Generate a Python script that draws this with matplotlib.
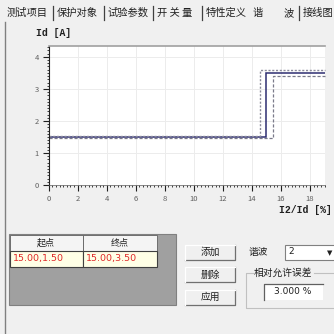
import matplotlib
matplotlib.use("Agg")
import matplotlib.pyplot as plt
from matplotlib.patches import Rectangle
from matplotlib.ticker import MultipleLocator

plt.rcParams['font.family'] = ['Noto Sans CJK SC', 'DejaVu Sans']

# ---- data ----
tabs = ["测试项目", "保护对象", "试验参数", "开 关 量", "特性定义", "谐", "波", "接线图"]
char_x = [0, 15.0, 15.0, 19]
char_y = [1.5, 1.5, 3.5, 3.5]
upper_x = [0, 14.55, 14.55, 19]
upper_y = [1.54, 1.54, 3.605, 3.605]
lower_x = [0, 15.45, 15.45, 19]
lower_y = [1.46, 1.46, 3.395, 3.395]
x_ticks = [0, 2, 4, 6, 8, 10, 12, 14, 16, 18]
y_ticks = [0, 1, 2, 3, 4]
table_header = ["起点", "终点"]
table_row = ["15.00,1.50", "15.00,3.50"]
buttons = ["添加", "删除", "应用"]
harmonic = "2"
tolerance_text = "3.000 %"

W = H = 334
fig = plt.figure(figsize=(W / 100, H / 100), dpi=100)
fig.patch.set_facecolor("#f0f0f0")

# UI overlay axes in pixel coords
ui = fig.add_axes([0, 0, 1, 1])
ui.set_xlim(0, W)
ui.set_ylim(H, 0)
ui.axis("off")
ui.set_zorder(0)

def P(x0, y0, w, h, fc, ec="none", lw=0.8, z=1):
    ui.add_patch(Rectangle((x0, y0), w, h, facecolor=fc, edgecolor=ec, lw=lw, zorder=z))

# tabs
tab_pos = [7, 57, 108, 157, 206, 253, 284, 303]
sep_pos = [53, 104, 153, 202, 299]
for t, x in zip(tabs, tab_pos):
    ui.text(x, 13, t, fontsize=7.4, color="#202020", va="center", ha="left")
for x in sep_pos:
    ui.plot([x, x], [6, 20], color="#404040", lw=0.9)
ui.plot([4.5, 4.5], [22, H], color="#808080", lw=1.0)

# axis labels
ui.text(36, 33, "Id [A]", fontsize=7, fontweight="bold", family="Liberation Mono",
        color="#202020", va="center", ha="left")
ui.text(332, 210, "I2/Id [%]", fontsize=7, fontweight="bold", family="Liberation Mono",
        color="#202020", va="center", ha="right")

# table
P(9, 234, 167, 71, "#a0a0a0", ec="#808080")
P(10, 235, 73, 16, "#f4f4f4", ec="#606060", lw=0.6)
P(83, 235, 74, 16, "#f4f4f4", ec="#606060", lw=0.6)
P(10, 251, 73, 16, "#ffffe6", ec="#404040", lw=0.8)
P(83, 251, 74, 16, "#ffffe6", ec="#404040", lw=0.8)
ui.text(46, 243, table_header[0], fontsize=6.5, ha="center", va="center", color="#202020")
ui.text(120, 243, table_header[1], fontsize=6.5, ha="center", va="center", color="#202020")
ui.text(13, 259, table_row[0], fontsize=6.8, ha="left", va="center", color="#e02828",
        family="DejaVu Sans")
ui.text(86, 259, table_row[1], fontsize=6.8, ha="left", va="center", color="#e02828",
        family="DejaVu Sans")

# buttons
for i, b in enumerate(buttons):
    yc = 252 + i * 22.5
    P(185, yc - 7.5, 50, 15, "#f0f0f0", z=1)
    ui.plot([185, 235, 235], [yc + 7.5, yc + 7.5, yc - 7.5], color="#707070", lw=0.9)
    ui.plot([185, 185, 235], [yc + 7.5, yc - 7.5, yc - 7.5], color="#ffffff", lw=0.9)
    ui.text(210, yc, b, fontsize=7, ha="center", va="center", color="#202020")

# harmonic combobox
ui.text(249, 252, "谐波", fontsize=7, ha="left", va="center", color="#202020")
P(285, 245, 52, 15, "#ffffff", ec="#808080", lw=0.8)
ui.text(288, 252, harmonic, fontsize=6.5, ha="left", va="center", color="#202020",
        family="DejaVu Sans")
ui.text(330, 253, "▼", fontsize=5, ha="center", va="center", color="#202020",
        family="DejaVu Sans")

# group box
ui.plot([253, 246, 246, 340], [273, 273, 308, 308], color="#c0c0c0", lw=0.8)
ui.plot([314, 340], [273, 273], color="#c0c0c0", lw=0.8)
ui.text(254, 273, "相对允许误差", fontsize=7, ha="left", va="center", color="#202020")
P(264, 284, 59, 16, "#ffffff", z=1)
ui.plot([264, 264, 323], [300, 284, 284], color="#606060", lw=0.9)
ui.text(293, 292, tolerance_text, fontsize=6.5, ha="center", va="center", color="#202020",
        family="DejaVu Sans")

# ---- chart ----
ax = fig.add_axes([48.7 / W, 1 - 185 / H, (324.5 - 48.7) / W, (185 - 46) / H])
ax.set_zorder(2)
ax.set_facecolor("white")
ax.set_xlim(0, 19)
ax.set_ylim(0, 4.34)
ax.set_xticks(x_ticks)
ax.set_yticks(y_ticks)
ax.xaxis.set_minor_locator(MultipleLocator(0.25))
ax.yaxis.set_minor_locator(MultipleLocator(0.1))
ax.tick_params(axis="both", which="major", length=4, width=0.8, color="#202020",
               labelsize=5.5, labelcolor="#606060", pad=3)
ax.tick_params(axis="both", which="minor", length=1.5, width=0.6, color="#202020")
ax.grid(True, which="major", color="#ececec", lw=0.7)
ax.set_axisbelow(True)
ax.spines["right"].set_visible(False)
ax.spines["top"].set_color("#a0a0a0")
ax.spines["top"].set_linewidth(1.2)
ax.spines["left"].set_color("#202020")
ax.spines["bottom"].set_color("#606060")
ax.spines["left"].set_linewidth(0.8)
ax.spines["bottom"].set_linewidth(0.5)

ax.plot(char_x, char_y, color="#2c2c70", lw=1.1, solid_joinstyle="miter")
ax.plot(upper_x, upper_y, color="#8a8a9a", lw=1.0, ls=(0, (1.5, 1.2)), clip_on=False)
ax.plot(lower_x, lower_y, color="#7a7a8a", lw=0.9, ls=(0, (2.5, 1.5)), clip_on=False)

fig.savefig("out.png", dpi=100, facecolor=fig.get_facecolor())
